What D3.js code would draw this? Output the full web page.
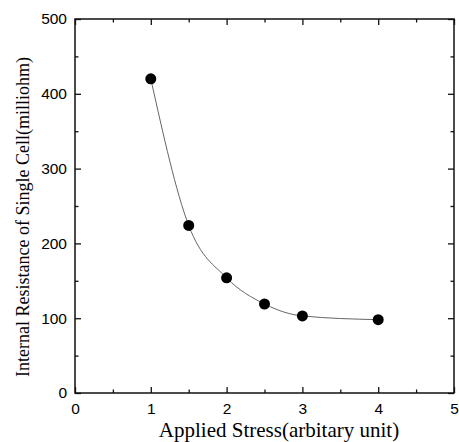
<!DOCTYPE html>
<html>
<head>
<meta charset="utf-8">
<script src="https://cdn.jsdelivr.net/npm/d3@7"></script>
<style>
    body { margin: 0; background: #fff; }
    svg { display: block; }
</style>
</head>
<body>
<div id="chart"></div>
<script>
const stressValues = [1, 1.5, 2, 2.5, 3, 4];
const resistanceValues = [420, 224, 154, 119, 103, 98];
const xTicks = [0, 1, 2, 3, 4, 5];
const yTicks = [0, 100, 200, 300, 400, 500];

const data = stressValues.map((s, i) => ({ stress: s, resistance: resistanceValues[i] }));

const width = 459;
const height = 442;
const margin = { top: 19, right: 5, bottom: 49, left: 75 };
const innerWidth = width - margin.left - margin.right;
const innerHeight = height - margin.top - margin.bottom;

const svg = d3.select('#chart')
    .append('svg')
    .attr('width', width)
    .attr('height', height);

const g = svg.append('g')
    .attr('transform', `translate(${margin.left},${margin.top})`);

const x = d3.scaleLinear().domain([0, 5]).range([0, innerWidth]);
const y = d3.scaleLinear().domain([0, 500]).range([innerHeight, 0]);

const minorX = d3.range(0.5, 5, 1);
const minorY = d3.range(50, 500, 100);

// labelled axes
g.append('g')
    .attr('transform', `translate(0,${innerHeight})`)
    .call(d3.axisBottom(x).tickValues(xTicks).tickSizeInner(-6).tickSizeOuter(0).tickPadding(10).tickFormat(d3.format('d')));
g.append('g')
    .call(d3.axisLeft(y).tickValues(yTicks).tickSizeInner(-6).tickSizeOuter(0).tickPadding(8).tickFormat(d3.format('d')));

// unlabelled inward ticks (minor ones and the top/right mirrors)
const addTicks = (axis, transform) => {
    const t = g.append('g').attr('class', 'bare');
    if (transform) t.attr('transform', transform);
    t.call(axis.tickSizeOuter(0));
    t.selectAll('text').remove();
};
addTicks(d3.axisBottom(x).tickValues(minorX).tickSizeInner(-3.5), `translate(0,${innerHeight})`);
addTicks(d3.axisLeft(y).tickValues(minorY).tickSizeInner(-3.5));
addTicks(d3.axisTop(x).tickValues(xTicks).tickSizeInner(-6));
addTicks(d3.axisTop(x).tickValues(minorX).tickSizeInner(-3.5));
addTicks(d3.axisRight(y).tickValues(yTicks).tickSizeInner(-6), `translate(${innerWidth},0)`);
addTicks(d3.axisRight(y).tickValues(minorY).tickSizeInner(-3.5), `translate(${innerWidth},0)`);

g.selectAll('.domain').remove();
g.selectAll('.tick line').attr('stroke', '#111').attr('stroke-width', 1.3);
g.selectAll('.tick text')
    .attr('font-family', '"Liberation Sans", Arial, sans-serif')
    .attr('font-size', 15.5)
    .attr('fill', '#000');

g.append('rect')
    .attr('x', 0)
    .attr('y', 0)
    .attr('width', innerWidth)
    .attr('height', innerHeight)
    .attr('fill', 'none')
    .attr('stroke', '#111')
    .attr('stroke-width', 1.5);

const line = d3.line()
    .x(d => x(d.stress))
    .y(d => y(d.resistance))
    .curve(d3.curveMonotoneX);

g.append('path')
    .datum(data)
    .attr('fill', 'none')
    .attr('stroke', '#666')
    .attr('stroke-width', 1)
    .attr('d', line);

g.append('g')
    .selectAll('circle')
    .data(data)
    .enter()
    .append('circle')
    .attr('cx', d => x(d.stress))
    .attr('cy', d => y(d.resistance))
    .attr('r', 5.5)
    .attr('fill', '#000');

svg.append('text')
    .attr('x', 279)
    .attr('y', 437)
    .attr('text-anchor', 'middle')
    .attr('font-family', '"Liberation Serif", "Times New Roman", serif')
    .attr('font-size', 21)
    .text('Applied Stress(arbitary unit)');

svg.append('text')
    .attr('transform', 'translate(29,217) rotate(-90)')
    .attr('text-anchor', 'middle')
    .attr('font-family', '"Liberation Serif", "Times New Roman", serif')
    .attr('font-size', 18)
    .text('Internal Resistance of Single Cell(milliohm)');
</script>
</body>
</html>
